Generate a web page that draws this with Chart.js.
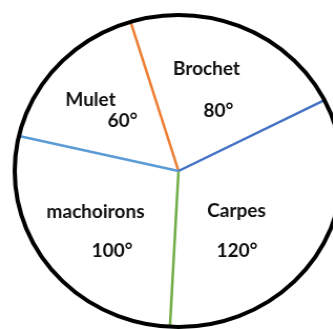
<!DOCTYPE html>
<html>
<head>
<meta charset="utf-8">
<script src="https://cdn.jsdelivr.net/npm/chart.js@4/dist/chart.umd.min.js"></script>
<style>
  html, body { margin: 0; padding: 0; background: #fff; overflow: hidden; }
  body { width: 333px; height: 329px; position: relative; }
  #wrap {
    position: absolute;
    left: -21px;
    top: -19px;
    width: 380px;
    height: 380px;
    transform: scaleX(1.05);
    transform-origin: 0 0;
  }
</style>
</head>
<body>
<div id="wrap"><canvas id="pie" width="380" height="380"></canvas></div>
<script>
// Fish catch shares, in degrees of the circle
const categories = ['Brochet', 'Carpes', 'machoirons', 'Mulet'];
const degrees = [80, 120, 100, 60];
const valueLabels = ['80°', '120°', '100°', '60°'];

// Colour of the radius drawn at the start of each sector
const edgeColors = ['#ED7D31', '#4472C4', '#70AD47', '#5B9BD5'];

// Text placement relative to the pie centre: [name dx, name dy, value dx, value dy]
const labelOffsets = [
  [28, -96, 40, -54],
  [58, 46, 58.5, 86],
  [-83, 47, -66.5, 86],
  [-88, -65, -56, -44]
];

const STRETCH_X = 1.05;

const outlinePlugin = {
  id: 'outline',
  afterDatasetsDraw(chart) {
    const ctx = chart.ctx;
    const arcs = chart.getDatasetMeta(0).data;
    if (!arcs.length) return;
    const cx = arcs[0].x, cy = arcs[0].y, r = arcs[0].outerRadius;

    // sector boundaries
    ctx.save();
    ctx.lineCap = 'butt';
    ctx.lineWidth = 2.5;
    arcs.forEach((arc, i) => {
      ctx.strokeStyle = edgeColors[i];
      ctx.beginPath();
      ctx.moveTo(cx, cy);
      ctx.lineTo(cx + Math.cos(arc.startAngle) * r, cy + Math.sin(arc.startAngle) * r);
      ctx.stroke();
    });
    // outer circle
    ctx.strokeStyle = '#000';
    ctx.lineWidth = 4;
    ctx.beginPath();
    ctx.arc(cx, cy, r, 0, Math.PI * 2);
    ctx.stroke();
    ctx.restore();

    // labels, drawn unstretched
    ctx.save();
    ctx.scale(1 / STRETCH_X, 1);
    ctx.fillStyle = '#111';
    ctx.font = 'bold 19px Lato, "Open Sans", sans-serif';
    ctx.textAlign = 'center';
    ctx.textBaseline = 'alphabetic';
    const sx = cx * STRETCH_X;
    categories.forEach((name, i) => {
      const o = labelOffsets[i];
      ctx.fillText(name, sx + o[0], cy + o[1]);
      ctx.fillText(valueLabels[i], sx + o[2], cy + o[3]);
    });
    ctx.restore();
  }
};

new Chart(document.getElementById('pie'), {
  type: 'pie',
  data: {
    labels: categories,
    datasets: [{
      data: degrees,
      backgroundColor: '#ffffff',
      borderWidth: 0,
      hoverBorderWidth: 0,
      offset: 0,
      hoverOffset: 0
    }]
  },
  options: {
    responsive: false,
    animation: false,
    events: [],
    rotation: -17,
    layout: { padding: 34 },
    plugins: {
      legend: { display: false },
      tooltip: { enabled: false }
    }
  },
  plugins: [outlinePlugin]
});
</script>
</body>
</html>
